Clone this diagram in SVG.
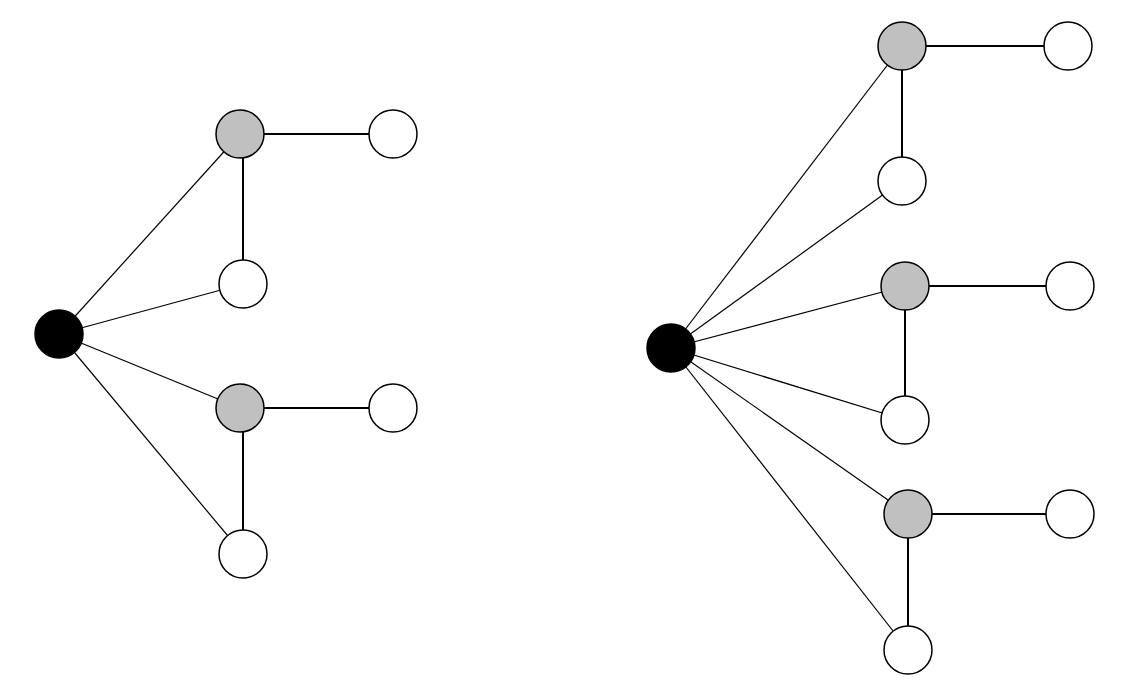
<svg xmlns="http://www.w3.org/2000/svg" width="1122" height="700" viewBox="0 0 1122 700">
<style>
.n{stroke:#000;stroke-width:1.5}
.w{fill:#fff}.g{fill:#c0c0c0}.b{fill:#000}
.t{stroke:#000;stroke-width:1.2;fill:none}
.k{stroke:#000;stroke-width:2;fill:none}
</style>
<rect width="1122" height="700" fill="#fff"/>
<g id="connectors">
<line class="t" x1="59" y1="334" x2="240" y2="134"/>
<line class="t" x1="59" y1="334" x2="243" y2="284"/>
<line class="t" x1="59" y1="334" x2="240" y2="408"/>
<line class="t" x1="59" y1="334" x2="243" y2="554"/>
<line class="k" x1="240" y1="134" x2="393" y2="134"/>
<line class="k" x1="243" y1="134" x2="243" y2="284"/>
<line class="k" x1="240" y1="408" x2="393" y2="408"/>
<line class="k" x1="243" y1="408" x2="243" y2="554"/>
<line class="t" x1="671" y1="348" x2="902" y2="46"/>
<line class="t" x1="671" y1="348" x2="902" y2="181"/>
<line class="t" x1="671" y1="348" x2="905" y2="286"/>
<line class="t" x1="671" y1="348" x2="905" y2="420"/>
<line class="t" x1="671" y1="348" x2="908" y2="514"/>
<line class="t" x1="671" y1="348" x2="908" y2="650"/>
<line class="k" x1="902" y1="46" x2="1068" y2="46"/>
<line class="k" x1="902" y1="46" x2="902" y2="181"/>
<line class="k" x1="905" y1="286" x2="1070" y2="286"/>
<line class="k" x1="905" y1="286" x2="905" y2="420"/>
<line class="k" x1="908" y1="514" x2="1070" y2="514"/>
<line class="k" x1="908" y1="514" x2="908" y2="650"/>
</g>
<g id="L0"><circle class="n b" cx="59" cy="334" r="24"/></g>
<g id="L1"><circle class="n g" cx="240" cy="134" r="24"/></g>
<g id="L2"><circle class="n w" cx="393" cy="134" r="24"/></g>
<g id="L3"><circle class="n w" cx="243" cy="284" r="24"/></g>
<g id="L4"><circle class="n g" cx="240" cy="408" r="24"/></g>
<g id="L5"><circle class="n w" cx="393" cy="408" r="24"/></g>
<g id="L6"><circle class="n w" cx="243" cy="554" r="24"/></g>
<g id="R0"><circle class="n b" cx="671" cy="348" r="24"/></g>
<g id="R1"><circle class="n g" cx="902" cy="46" r="24"/></g>
<g id="R2"><circle class="n w" cx="1068" cy="46" r="24"/></g>
<g id="R3"><circle class="n w" cx="902" cy="181" r="24"/></g>
<g id="R4"><circle class="n g" cx="905" cy="286" r="24"/></g>
<g id="R5"><circle class="n w" cx="1070" cy="286" r="24"/></g>
<g id="R6"><circle class="n w" cx="905" cy="420" r="24"/></g>
<g id="R7"><circle class="n g" cx="908" cy="514" r="24"/></g>
<g id="R8"><circle class="n w" cx="1070" cy="514" r="24"/></g>
<g id="R9"><circle class="n w" cx="908" cy="650" r="24"/></g>
</svg>
